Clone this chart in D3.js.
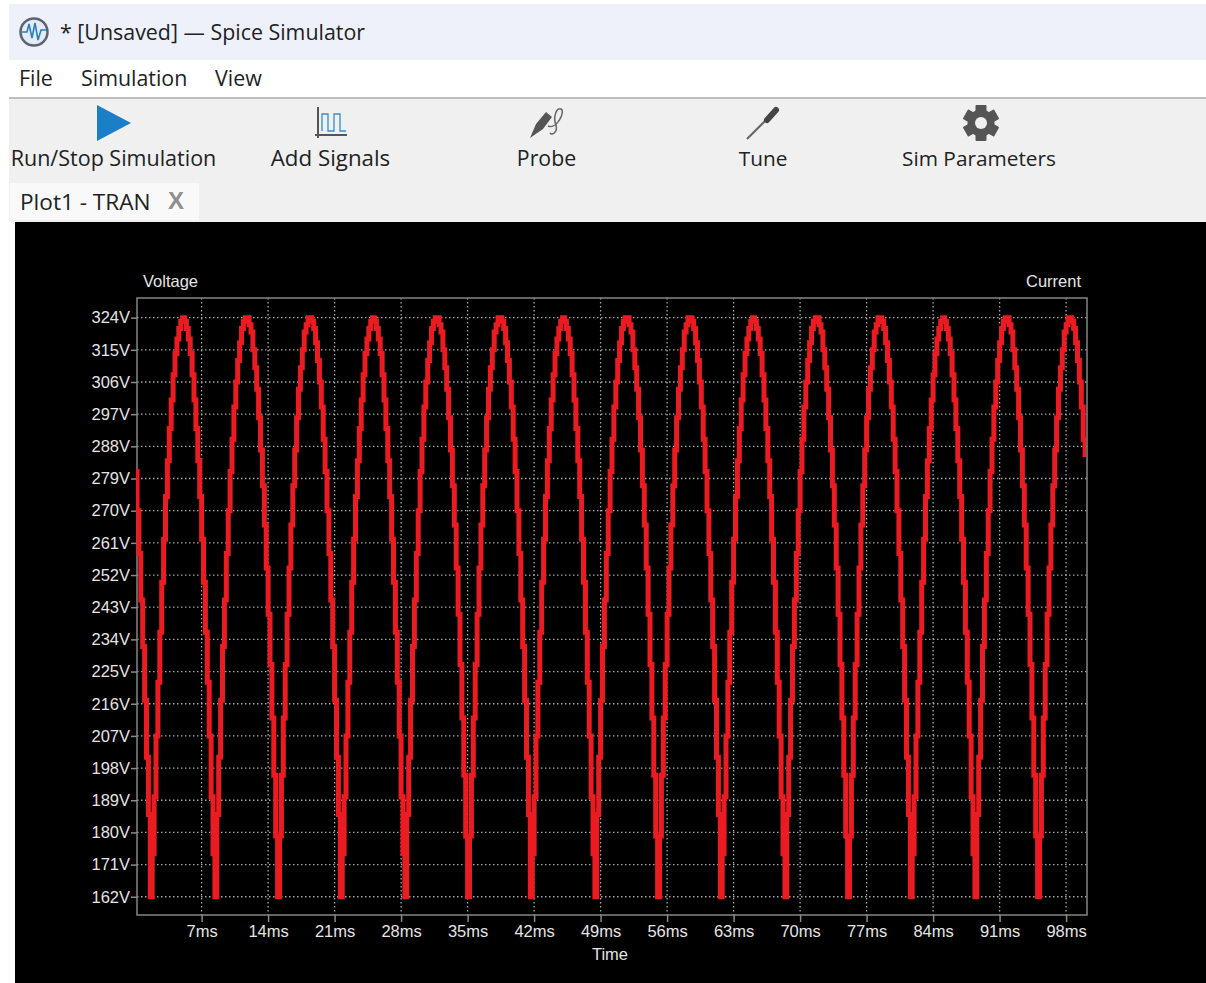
<!DOCTYPE html>
<html>
<head>
<meta charset="utf-8">
<title>Spice Simulator</title>
<script src="https://cdn.jsdelivr.net/npm/d3@7"></script>
<style>
    body { margin: 0; background: #fff; }
    svg { display: block; }
    .ui { font-family: "Open Sans", "Noto Sans", sans-serif; fill: #222; }
    .plotText { font-family: "Liberation Sans", Arial, sans-serif; font-size: 16.5px; fill: #e4e4e4; }
</style>
</head>
<body>
<script>
// values
let voltageTicks = [162, 171, 180, 189, 198, 207, 216, 225, 234, 243, 252, 261, 270, 279, 288, 297, 306, 315, 324]
let timeTicks = [7, 14, 21, 28, 35, 42, 49, 56, 63, 70, 77, 84, 91, 98]
let sampleStepMs = 0.2
let voltage = [
    281,270,258,245,232,217,201,185,162,174,190,207,222,236,250,262,274,284,293,301,308,314,318,321,323,324,323,321,318,314,308,301,293,284,274,262,250,236,222,207,190,174,162,185,201,217,232,245,258,270,281,290,299,306,312,317,321,323,324,324,322,320,315,310,304,296,287,277,266,254,241,227,212,196,179,162,179,196,212,227,241,254,266,277,287,296,304,310,315,320,322,324,324,323,321,317,312,306,299,290,
    281,270,258,245,232,217,201,185,162,174,190,207,222,236,250,262,274,284,293,301,308,314,318,321,323,324,323,321,318,314,308,301,293,284,274,262,250,236,222,207,190,174,162,185,201,217,232,245,258,270,281,290,299,306,312,317,321,323,324,324,322,320,315,310,304,296,287,277,266,254,241,227,212,196,179,162,179,196,212,227,241,254,266,277,287,296,304,310,315,320,322,324,324,323,321,317,312,306,299,290,
    281,270,258,245,232,217,201,185,162,174,190,207,222,236,250,262,274,284,293,301,308,314,318,321,323,324,323,321,318,314,308,301,293,284,274,262,250,236,222,207,190,174,162,185,201,217,232,245,258,270,281,290,299,306,312,317,321,323,324,324,322,320,315,310,304,296,287,277,266,254,241,227,212,196,179,162,179,196,212,227,241,254,266,277,287,296,304,310,315,320,322,324,324,323,321,317,312,306,299,290,
    281,270,258,245,232,217,201,185,162,174,190,207,222,236,250,262,274,284,293,301,308,314,318,321,323,324,323,321,318,314,308,301,293,284,274,262,250,236,222,207,190,174,162,185,201,217,232,245,258,270,281,290,299,306,312,317,321,323,324,324,322,320,315,310,304,296,287,277,266,254,241,227,212,196,179,162,179,196,212,227,241,254,266,277,287,296,304,310,315,320,322,324,324,323,321,317,312,306,299,290,
    281,270,258,245,232,217,201,185,162,174,190,207,222,236,250,262,274,284,293,301,308,314,318,321,323,324,323,321,318,314,308,301,293,284,274,262,250,236,222,207,190,174,162,185,201,217,232,245,258,270,281,290,299,306,312,317,321,323,324,324,322,320,315,310,304,296,287,277,266,254,241,227,212,196,179,162,179,196,212,227,241,254,266,277,287,296,304,310,315,320,322,324,324,323,321,317,312,306,299,290,
    285
]

let w = 1206
let h = 983
let plot = { left: 137, right: 1087, top: 298, bottom: 915 }

let svg = d3.select("body")
            .append("svg")
                .attr("width", w)
                .attr("height", h)

// window chrome
svg.append("rect").attr("x", 9).attr("y", 4).attr("width", w - 9).attr("height", 56).attr("fill", "#eef1fa")
svg.append("rect").attr("x", 9).attr("y", 97).attr("width", w - 9).attr("height", 2).attr("fill", "#bdbdbd")
svg.append("rect").attr("x", 9).attr("y", 99).attr("width", w - 9).attr("height", 123).attr("fill", "#f0f0f0")
svg.append("rect").attr("x", 10).attr("y", 183).attr("width", 189).attr("height", 37).attr("fill", "#f9f9f9")
svg.append("rect").attr("x", 15).attr("y", 222).attr("width", w - 15).attr("height", h - 222).attr("fill", "#000")

let uiText = function(txt, x, y, size, anchor) {
    return svg.append("text")
            .attr("class", "ui")
            .attr("x", x)
            .attr("y", y)
            .attr("font-size", size)
            .attr("text-anchor", anchor || "start")
            .text(txt)
}

uiText("* [Unsaved] \u2014 Spice Simulator", 60, 40, 21.4)
uiText("File", 19, 86, 21.4)
uiText("Simulation", 81, 86, 21.4)
uiText("View", 215, 86, 21.4)
uiText("Run/Stop Simulation", 113.5, 166, 21.5, "middle")
uiText("Add Signals", 330.5, 166, 22.3, "middle")
uiText("Probe", 546.5, 166, 21.3, "middle")
uiText("Tune", 763, 166, 20.8, "middle")
uiText("Sim Parameters", 979, 166, 20.8, "middle")
uiText("Plot1 - TRAN", 20, 210, 22.6)
svg.append("text")
    .attr("x", 176)
    .attr("y", 209)
    .attr("text-anchor", "middle")
    .attr("font-family", "Liberation Sans")
    .attr("font-weight", "bold")
    .attr("font-size", 24)
    .attr("fill", "#8f8f8f")
    .text("X")

// toolbar icons
let logo = svg.append("g")
logo.append("circle").attr("cx", 34).attr("cy", 32).attr("r", 13.5)
    .attr("fill", "#e6ebf3").attr("stroke", "#5a6470").attr("stroke-width", 2.5)
logo.append("path").attr("d", "M22,32 H27 L29,24 L32,38 L35,23 L38,40 L41,30 H46")
    .attr("fill", "none").attr("stroke", "#2a7fc0").attr("stroke-width", 1.6)

svg.append("path").attr("d", "M97,105 L131,123 L97,141 Z").attr("fill", "#1a7fc7")

svg.append("path").attr("d", "M318,107 V138 M315,135 H347")
    .attr("fill", "none").attr("stroke", "#555").attr("stroke-width", 2)
svg.append("path").attr("d", "M322,131 V114 H328 V131 H334 V114 H340 V131 H346")
    .attr("fill", "none").attr("stroke", "#2f8fd0").attr("stroke-width", 1.3)

svg.append("path").attr("d", "M530,138 L536,124 L546,112 L552,117 L543,129 Z").attr("fill", "#555")
svg.append("path").attr("d", "M548,126 C556,130 566,112 561,109 C556,107 553,118 556,125 C558,132 552,136 550,133")
    .attr("fill", "none").attr("stroke", "#666").attr("stroke-width", 1.5)

svg.append("path").attr("d", "M747,139 L768,118").attr("stroke", "#666").attr("stroke-width", 2)
svg.append("path").attr("d", "M767,120 L776,110").attr("stroke", "#444").attr("stroke-width", 6).attr("stroke-linecap", "round")

let gear = svg.append("g").attr("transform", "translate(981,123)")
gear.selectAll("rect")
    .data([0, 60, 120])
    .enter()
    .append("rect")
        .attr("x", -5.5)
        .attr("y", -18)
        .attr("width", 11)
        .attr("height", 36)
        .attr("rx", 1)
        .attr("fill", "#555")
        .attr("transform", (d) => "rotate(" + d + ")")
gear.append("circle").attr("r", 13.5).attr("fill", "#555")
gear.append("circle").attr("r", 6).attr("fill", "#f0f0f0")

// plot
let x = d3.scaleLinear()
            .domain([0.2, 100.2])
            .range([plot.left, plot.right])

let y = d3.scaleLinear()
            .domain([156.9, 329.5])
            .range([plot.bottom, plot.top])

let grid = svg.append("g")
grid.selectAll(".hGrid")
    .data(voltageTicks)
    .enter()
    .append("line")
        .attr("class", "hGrid")
        .attr("x1", plot.left)
        .attr("x2", plot.right)
        .attr("y1", (d) => y(d))
        .attr("y2", (d) => y(d))
grid.selectAll(".vGrid")
    .data(timeTicks)
    .enter()
    .append("line")
        .attr("class", "vGrid")
        .attr("x1", (d) => x(d))
        .attr("x2", (d) => x(d))
        .attr("y1", plot.top)
        .attr("y2", plot.bottom)
grid.selectAll("line")
    .attr("stroke", "#a8a8a8")
    .attr("stroke-width", 1.3)
    .attr("stroke-dasharray", "1.5,2.5")

let yAxis = svg.append("g")
                .attr("transform", "translate(" + plot.left + ",0)")
                .call(d3.axisLeft(y)
                    .tickValues(voltageTicks)
                    .tickSize(6)
                    .tickPadding(1)
                    .tickFormat((d) => d + "V"))

let xAxis = svg.append("g")
                .attr("transform", "translate(0," + plot.bottom + ")")
                .call(d3.axisBottom(x)
                    .tickValues(timeTicks)
                    .tickSize(7)
                    .tickPadding(3)
                    .tickFormat((d) => d + "ms"))

svg.selectAll(".domain").remove()
svg.selectAll(".tick line").attr("stroke", "#8a8a8a").attr("stroke-width", 1.5)
svg.selectAll(".tick text")
    .attr("class", "plotText")
    .attr("fill", null)

svg.append("rect")
    .attr("x", plot.left)
    .attr("y", plot.top)
    .attr("width", plot.right - plot.left)
    .attr("height", plot.bottom - plot.top)
    .attr("fill", "none")
    .attr("stroke", "#858585")
    .attr("stroke-width", 1.5)

svg.append("clipPath")
    .attr("id", "plotClip")
    .append("rect")
        .attr("x", plot.left - 1)
        .attr("y", plot.top)
        .attr("width", plot.right - plot.left)
        .attr("height", plot.bottom - plot.top)

let line = d3.line()
            .x((d, i) => x(i * sampleStepMs))
            .y((d) => y(d))
            .curve(d3.curveStepAfter)

svg.append("path")
    .datum(voltage)
    .attr("d", line)
    .attr("clip-path", "url(#plotClip)")
    .attr("fill", "none")
    .attr("stroke", "#ea1c22")
    .attr("stroke-width", 5)

let plotLabel = function(txt, px, py, anchor) {
    svg.append("text")
        .attr("class", "plotText")
        .attr("x", px)
        .attr("y", py)
        .attr("text-anchor", anchor)
        .text(txt)
}

plotLabel("Voltage", 143, 287, "start")
plotLabel("Current", 1081, 287, "end")
plotLabel("Time", 610, 960, "middle")
</script>
</body>
</html>
